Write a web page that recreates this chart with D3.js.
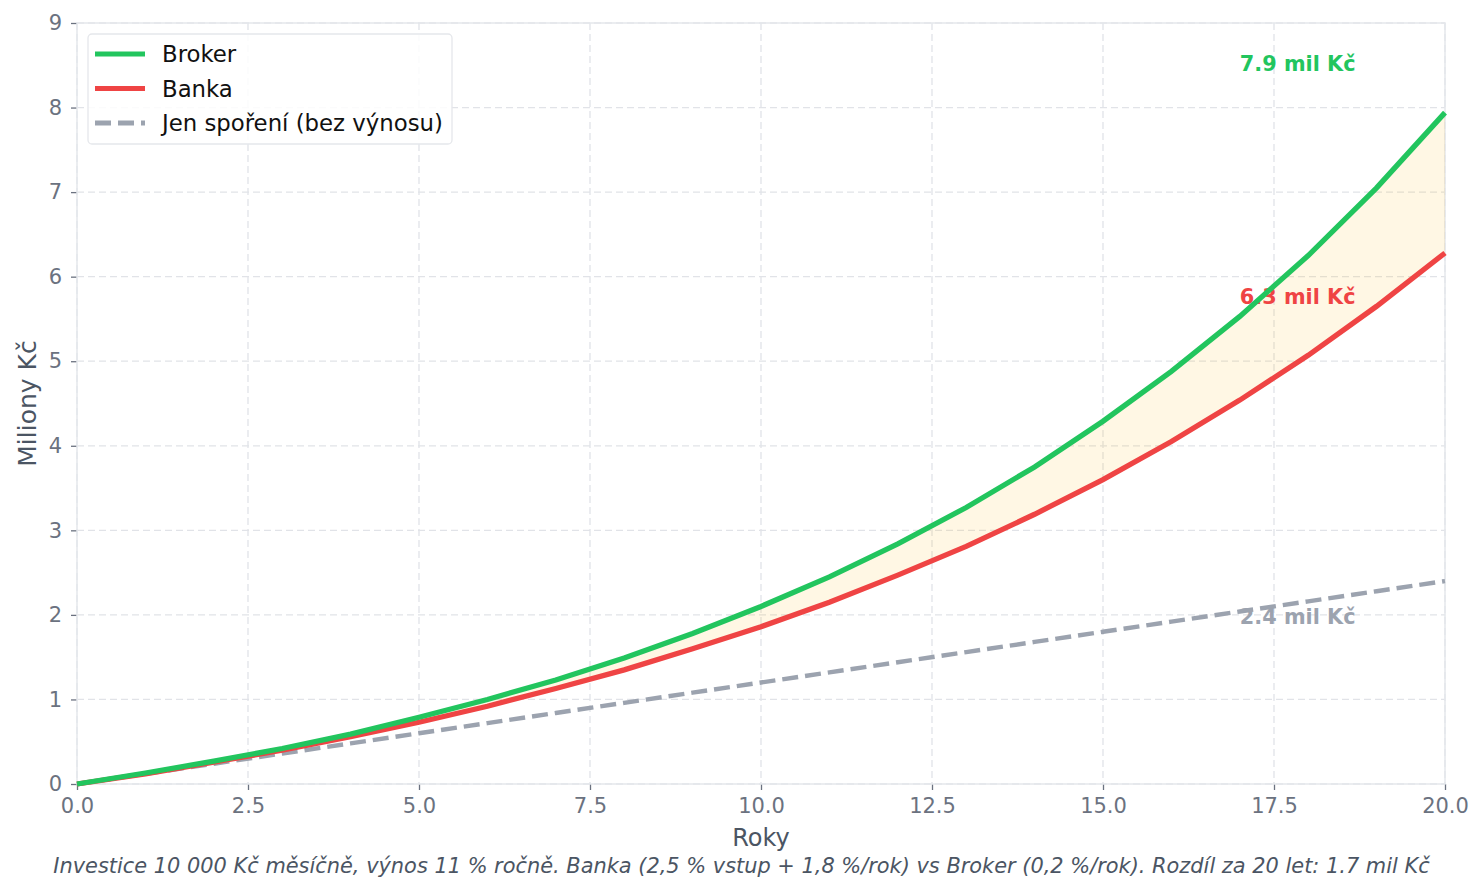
<!DOCTYPE html>
<html>
<head>
<meta charset="utf-8">
<script src="https://cdn.jsdelivr.net/npm/d3@7"></script>
<style>
  body { margin: 0; background: #fff; }
  svg { display: block; font-family: "DejaVu Sans", sans-serif; }
</style>
</head>
<body>
<svg id="chart" width="1483" height="893"></svg>
<script>
// roky 0..20, hodnoty v milionech Kč
var years = [0, 1, 2, 3, 4, 5, 6, 7, 8, 9, 10, 11, 12, 13, 14, 15, 16, 17, 18, 19, 20];
var broker = [0, 0.13, 0.27, 0.42, 0.59, 0.79, 1.00, 1.23, 1.49, 1.78, 2.10, 2.45, 2.84, 3.27, 3.75, 4.29, 4.88, 5.53, 6.25, 7.05, 7.94];
var banka = [0, 0.12, 0.26, 0.40, 0.56, 0.73, 0.92, 1.13, 1.35, 1.60, 1.86, 2.15, 2.47, 2.81, 3.19, 3.60, 4.05, 4.54, 5.07, 5.65, 6.28];
var sporeni = [0, 0.12, 0.24, 0.36, 0.48, 0.60, 0.72, 0.84, 0.96, 1.08, 1.20, 1.32, 1.44, 1.56, 1.68, 1.80, 1.92, 2.04, 2.16, 2.28, 2.40];

var xTicks = [0, 2.5, 5, 7.5, 10, 12.5, 15, 17.5, 20];
var yTicks = [0, 1, 2, 3, 4, 5, 6, 7, 8, 9];

var seriesNames = ['Broker', 'Banka', 'Jen spoření (bez výnosu)'];
var seriesColors = ['#22c55e', '#ef4444', '#9ca3af'];
var subtitle = 'Investice 10 000 Kč měsíčně, výnos 11 % ročně. Banka (2,5 % vstup + 1,8 %/rok) vs Broker (0,2 %/rok). Rozdíl za 20 let: 1.7 mil Kč';

var margin = {top: 23, right: 38, bottom: 109, left: 77};
var W = 1483, H = 893;
var w = W - margin.left - margin.right;
var h = H - margin.top - margin.bottom;

var svg = d3.select('#chart');
var g = svg.append('g').attr('transform', 'translate(' + margin.left + ',' + margin.top + ')');

var x = d3.scaleLinear().domain([0, 20]).range([0, w]);
var y = d3.scaleLinear().domain([0, 9]).range([h, 0]);

// mřížka
g.append('g').selectAll('line.gx')
    .data(xTicks).enter().append('line')
    .attr('x1', function(d) { return x(d); })
    .attr('x2', function(d) { return x(d); })
    .attr('y1', 0).attr('y2', h)
    .style('stroke', '#e1e3e8').style('stroke-width', 1.3)
    .style('stroke-dasharray', '7,4');
g.append('g').selectAll('line.gy')
    .data(yTicks).enter().append('line')
    .attr('y1', function(d) { return y(d); })
    .attr('y2', function(d) { return y(d); })
    .attr('x1', 0).attr('x2', w)
    .style('stroke', '#e1e3e8').style('stroke-width', 1.3)
    .style('stroke-dasharray', '7,4');

// osy
var xAxis = g.append('g').attr('transform', 'translate(0,' + h + ')')
    .call(d3.axisBottom(x).tickValues(xTicks).tickFormat(d3.format('.1f')).tickSize(6).tickPadding(8));
var yAxis = g.append('g')
    .call(d3.axisLeft(y).tickValues(yTicks).tickFormat(d3.format('d')).tickSize(6).tickPadding(9));
[xAxis, yAxis].forEach(function(ax) {
    ax.attr('font-size', null).attr('font-family', null);
    ax.select('.domain').remove();
    ax.selectAll('.tick line').style('stroke', '#6b7280').style('stroke-width', 1.3);
    ax.selectAll('.tick text').style('fill', '#6b7280').style('font-size', '21px');
});

// rámeček
g.append('rect').attr('x', 0).attr('y', 0).attr('width', w).attr('height', h)
    .style('fill', 'none').style('stroke', '#e5e7eb').style('stroke-width', 1.5);

// výplň mezi brokerem a bankou
var area = d3.area()
    .x(function(d, i) { return x(years[i]); })
    .y0(function(d, i) { return y(banka[i]); })
    .y1(function(d, i) { return y(broker[i]); });
g.append('path').datum(broker).attr('d', area)
    .style('fill', '#fbbf24').style('fill-opacity', 0.12);

// popisky koncových hodnot (pod čarami)
var finals = [broker[20], banka[20], sporeni[20]];
var labelShift = [0.58, -0.52, -0.42];
g.selectAll('text.endlabel')
    .data(finals).enter().append('text')
    .attr('class', 'endlabel')
    .attr('x', x(17))
    .attr('y', function(d, i) { return y(d + labelShift[i]); })
    .attr('dominant-baseline', 'central')
    .style('fill', function(d, i) { return seriesColors[i]; })
    .style('font-size', '20.8px').style('font-weight', 'bold')
    .text(function(d) { return d.toFixed(1) + ' mil Kč'; });

var line = d3.line()
    .x(function(d, i) { return x(years[i]); })
    .y(function(d) { return y(d); });

g.append('path').datum(sporeni).attr('d', line)
    .style('fill', 'none').style('stroke', seriesColors[2]).style('stroke-width', 4.4)
    .style('stroke-dasharray', '16,7');
g.append('path').datum(banka).attr('d', line)
    .style('fill', 'none').style('stroke', seriesColors[1]).style('stroke-width', 5.3);
g.append('path').datum(broker).attr('d', line)
    .style('fill', 'none').style('stroke', seriesColors[0]).style('stroke-width', 5.3);

// legenda
var legend = g.append('g').attr('transform', 'translate(11,11)');
legend.append('rect').attr('width', 364).attr('height', 110).attr('rx', 4)
    .style('fill', 'rgba(255,255,255,0.85)').style('stroke', '#e5e7eb').style('stroke-width', 1.3);
seriesNames.forEach(function(name, i) {
    var yy = 20 + i * 34.5;
    legend.append('line').attr('x1', 7).attr('x2', 57).attr('y1', yy).attr('y2', yy)
        .style('stroke', seriesColors[i]).style('stroke-width', 5)
        .style('stroke-dasharray', i == 2 ? '16,7' : null);
    legend.append('text').attr('x', 74).attr('y', yy).attr('dominant-baseline', 'central')
        .style('font-size', '22.8px').style('fill', '#111').text(name);
});

// názvy os
svg.append('text').attr('x', margin.left + w / 2).attr('y', 838)
    .attr('text-anchor', 'middle').attr('dominant-baseline', 'central')
    .style('font-size', '24px').style('fill', '#4b5563').text('Roky');
svg.append('text')
    .attr('transform', 'translate(27,' + (margin.top + h / 2) + ') rotate(-90)')
    .attr('text-anchor', 'middle').attr('dominant-baseline', 'central')
    .style('font-size', '25px').style('fill', '#4b5563').text('Miliony Kč');

svg.append('text').attr('x', W / 2).attr('y', 866)
    .attr('text-anchor', 'middle').attr('dominant-baseline', 'central')
    .style('font-size', '20.9px').style('font-style', 'italic').style('fill', '#4b5563')
    .text(subtitle);
</script>
</body>
</html>
